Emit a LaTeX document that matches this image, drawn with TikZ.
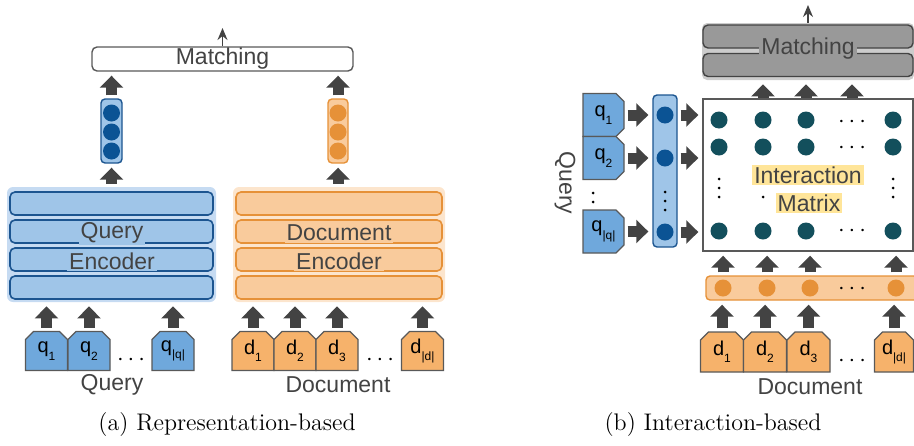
\documentclass[tikz,border=0pt]{standalone}
\usepackage{fontspec}
\setsansfont{Liberation Sans}
\usetikzlibrary{positioning, arrows.meta, calc, shapes.misc}
\definecolor{qtok}{HTML}{6FA8DC}
\definecolor{qfill}{HTML}{9FC5E8}
\definecolor{qbg}{HTML}{C6DBF2}
\definecolor{qline}{HTML}{1C5590}
\definecolor{qdot}{HTML}{0B5394}
\definecolor{dtok}{HTML}{F6B26B}
\definecolor{dfill}{HTML}{F9CB9C}
\definecolor{dbg}{HTML}{FCE5CD}
\definecolor{dline}{HTML}{E69138}
\definecolor{tealdot}{HTML}{134F5C}
\definecolor{inkgray}{HTML}{434343}
\definecolor{tokline}{HTML}{595959}
\definecolor{matchbg}{HTML}{CCCCCC}
\definecolor{matchfill}{HTML}{999999}
\definecolor{hlyellow}{HTML}{FFE599}

\newcommand{\tok}[2]{#1\raisebox{-0.7ex}{\fontsize{6}{7}\selectfont#2}}

\tikzset{
  fat/.style={draw=inkgray, line width=5.5pt, -{Triangle[width=11.5pt, length=6pt]},
    shorten <=1.5pt, shorten >=2pt},
  thinout/.style={draw=inkgray, line width=0.7pt, -{Stealth[length=6pt, width=5pt]}},
  qlayer/.style={draw=qline, fill=qfill, line width=0.8pt, rounded corners=2.5pt,
    minimum width=101.5pt, minimum height=11.5pt, inner sep=0pt},
  dlayer/.style={draw=dline, fill=dfill, line width=0.8pt, rounded corners=2.5pt,
    minimum width=103pt, minimum height=11.5pt, inner sep=0pt},
  mlayer/.style={draw=inkgray, fill=matchfill, line width=0.7pt, rounded corners=2.5pt,
    minimum width=105pt, minimum height=11.5pt, inner sep=0pt},
  vecbox/.style={draw=#1, line width=0.7pt, rounded corners=2pt, inner sep=0pt},
  dotc/.style={circle, fill=#1, minimum size=8.5pt, inner sep=0pt},
  smalldot/.style={circle, fill=black, minimum size=1.5pt, inner sep=0pt},
  token/.style={chamfered rectangle, chamfered rectangle sep=2pt, draw=tokline,
    line width=0.6pt, inner sep=0pt, text=black, font=\sffamily\fontsize{10}{11}\selectfont},
  tokup/.style={token, chamfered rectangle corners={north west, north east},
    minimum width=21pt, minimum height=19.5pt},
  tokright/.style={token, chamfered rectangle corners={north east, south east},
    minimum width=20.5pt, minimum height=21.5pt},
  caption/.style={text=black, font=\rmfamily\fontsize{12}{14}\selectfont}
}

\begin{document}
\begin{tikzpicture}[x=0.5pt, y=-0.5pt, font=\sffamily\fontsize{11.5}{13}\selectfont, text=inkgray]
\useasboundingbox (0,0) rectangle (914,445);

% ---------------- (a) Representation-based ----------------
% Matching
\node[draw=tokline, fill=white, line width=0.7pt, rounded corners=2.5pt,
  minimum width=130.5pt, minimum height=12pt, inner sep=0pt] (matchA) at (222.5,59) {Matching};
\coordinate (outA) at (222.5,28);
\draw[thinout] (matchA.north) -- (outA);

% Encoder
\node[fill=qbg, rounded corners=3pt, minimum width=104.5pt, minimum height=57.5pt, inner sep=0pt] (qenc) at (111.5,244.5) {};
\node[fill=dbg, rounded corners=3pt, minimum width=106pt, minimum height=57.5pt, inner sep=0pt] (denc) at (339,244.5) {};
\foreach \i/\y in {1/203.5, 2/231.5, 3/259.5, 4/287.5} {
  \node[qlayer] (ql\i) at (111.5,\y) {};
  \node[dlayer] (dl\i) at (339,\y) {};
}
\node[fill=qfill, inner sep=1pt] (qencT) at (112,233) {Query};
\node[fill=qfill, inner sep=1pt] (qencB) at (112,261) {Encoder};
\node[fill=dfill, inner sep=1pt] (dencT) at (339,233) {Document};
\node[fill=dfill, inner sep=1pt] (dencB) at (339,261) {Encoder};

% Vektoren
\node[vecbox=qline, fill=qfill, minimum width=10.5pt, minimum height=32pt] (qvecA) at (111.5,131) {};
\node[vecbox=dline, fill=dfill, minimum width=10pt, minimum height=32pt] (dvecA) at (338,131) {};
\foreach \i/\y in {1/113, 2/132, 3/151} {
  \node[dotc=qdot] (qa\i) at (111.5,\y) {};
  \node[dotc=dline] (da\i) at (338,\y) {};
}
\draw[fat] (qenc.north -| qvecA) -- (qvecA.south);
\draw[fat] (denc.north -| dvecA) -- (dvecA.south);
\draw[fat] (qvecA.north) -- (qvecA.north |- matchA.south);
\draw[fat] (dvecA.north) -- (dvecA.north |- matchA.south);

% Tokens
\node[tokup, fill=qtok] (q1) at (46.5,351) {\tok{q}{1}};
\node[tokup, fill=qtok] (q2) at (89,351) {\tok{q}{2}};
\node[tokup, fill=qtok] (q3) at (173,351) {\tok{q}{|q|}};
\node[text=black] (qdots) at (131,360) {$\cdots$};
\node[tokup, fill=dtok] (d1) at (253,351) {\tok{d}{1}};
\node[tokup, fill=dtok] (d2) at (295,351) {\tok{d}{2}};
\node[tokup, fill=dtok] (d3) at (337,351) {\tok{d}{3}};
\node[tokup, fill=dtok] (d4) at (422.5,351) {\tok{d}{|d|}};
\node[text=black] (ddots) at (380,360) {$\cdots$};
\foreach \n in {q1,q2,q3} \draw[fat] (\n.north) -- (\n.north |- qenc.south);
\foreach \n in {d1,d2,d3,d4} \draw[fat] (\n.north) -- (\n.north |- denc.south);

\node (qlabA) at (112,385) {Query};
\node (dlabA) at (338,385) {Document};
\node[caption] (capA) at (227,425) {(a) Representation-based};

% ---------------- (b) Interaction-based ----------------
% Matching
\node[fill=matchbg, rounded corners=2.5pt, minimum width=106pt, minimum height=28.5pt, inner sep=0pt] (matchB) at (808,51.5) {};
\node[mlayer] (mb1) at (808,36.5) {};
\node[mlayer] (mb2) at (808,65) {};
\node[fill=matchfill, inner sep=1pt] (matchBt) at (808,49) {Matching};
\coordinate (outB) at (808,5);
\draw[thinout] (matchB.north) -- (outB);

% Interaktionsmatrix
\node[draw=tokline, fill=white, line width=0.7pt, minimum width=105pt, minimum height=76pt, inner sep=0pt] (mtx) at (808,175) {};
\foreach \r/\y in {1/120, 2/147, 4/231}
  \foreach \c/\x in {1/719, 2/763, 3/806, 5/893}
    \node[dotc=tealdot] (m\r\c) at (\x,\y) {};
\foreach \r/\y in {1/122, 2/148, 4/231}
  \node[text=black] (mh\r) at (852,\y) {$\cdots$};
\foreach \k/\y in {1/179, 2/188, 3/197} {
  \node[smalldot] (mva\k) at (719,\y) {};
  \node[smalldot] (mve\k) at (893,\y) {};
}
\node[smalldot] (mvb) at (763,197) {};
\node[fill=hlyellow, inner sep=1pt] (iaT) at (808,175) {Interaction};
\node[fill=hlyellow, inner sep=1pt] (iaB) at (809,203) {Matrix};
\foreach \n in {m12,m13,mh1} \draw[fat, shorten <=0pt] (mtx.north -| \n) -- (matchB.south -| \n);

% Query-Seite
\node[tokright, fill=qtok] (qt1) at (603.5,115) {\tok{q}{1}};
\node[tokright, fill=qtok] (qt2) at (603.5,158) {\tok{q}{2}};
\node[tokright, fill=qtok] (qt3) at (603.5,231.5) {\tok{q}{|q|}};
\node[smalldot] (qtd1) at (593,193) {};
\node[smalldot] (qtd2) at (593,202) {};
\node[rotate=-90] (qlabB) at (565,183) {Query};
\node[vecbox=qline, fill=qfill, minimum width=12pt, minimum height=76pt] (qvecB) at (665,171) {};
\foreach \i/\y in {1/115, 2/158, 3/232} \node[dotc=qdot] (qc\i) at (665,\y) {};
\foreach \k/\y in {1/192, 2/201, 3/210} \node[smalldot] (qcv\k) at (665,\y) {};
\foreach \i in {1,2,3} {
  \draw[fat] (qt\i.east) -- (qt\i.east -| qvecB.west);
  \draw[fat] (qc\i -| qvecB.east) -- (qc\i -| mtx.west);
}

% Dokument-Seite
\node[vecbox=dline, fill=dfill, minimum width=106pt, minimum height=12pt] (dvecB) at (812,288) {};
\foreach \i/\x in {1/723, 2/767, 3/810, 4/896} \node[dotc=dline] (dc\i) at (\x,288) {};
\node[text=black] (dcdots) at (852,289) {$\cdots$};
\foreach \n in {dc1,dc2,dc3,dc4} \draw[fat] (dvecB.north -| \n) -- (mtx.south -| \n);
\node[tokup, fill=dtok, minimum width=21.5pt, minimum height=20pt] (dt1) at (722,352) {\tok{d}{1}};
\node[tokup, fill=dtok, minimum width=21.5pt, minimum height=20pt] (dt2) at (765,352) {\tok{d}{2}};
\node[tokup, fill=dtok, minimum width=21.5pt, minimum height=20pt] (dt3) at (808.5,352) {\tok{d}{3}};
\node[tokup, fill=dtok, minimum width=19.5pt, minimum height=20pt] (dt4) at (894,352) {\tok{d}{|d|}};
\node[text=black] (dtdots) at (852,361) {$\cdots$};
\foreach \n in {dt1,dt2,dt3,dt4} \draw[fat] (\n.north) -- (\n.north |- dvecB.south);

\node (dlabB) at (810,387) {Document};
\node[caption] (capB) at (713,425) {(b) Interaction-based};

\end{tikzpicture}
\end{document}
